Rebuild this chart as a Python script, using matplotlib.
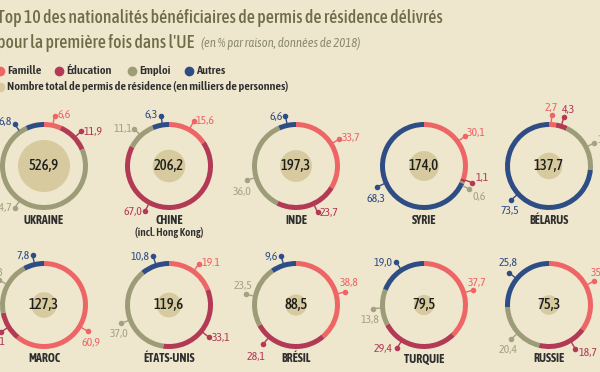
import matplotlib.pyplot as plt
import numpy as np

W, H = 600, 372

countries = ['UKRAINE', 'CHINE', 'INDE', 'SYRIE', 'BÉLARUS',
             'MAROC', 'ÉTATS-UNIS', 'BRÉSIL', 'TURQUIE', 'RUSSIE']
subnames = ['', '(incl. Hong Kong)', '', '', '', '', '', '', '', '']
totals = [526.9, 206.2, 197.3, 174.0, 137.7, 127.3, 119.6, 88.5, 79.5, 75.3]
famille = [6.6, 15.6, 33.7, 30.1, 2.7, 60.9, 19.1, 38.8, 37.7, 35.1]
education = [11.9, 67.0, 23.7, 1.1, 4.3, 11.1, 33.1, 28.1, 29.4, 18.7]
emploi = [74.7, 11.1, 36.0, 0.6, 19.5, 20.3, 37.0, 23.5, 13.8, 20.4]
autres = [6.8, 6.3, 6.6, 68.3, 73.5, 7.8, 10.8, 9.6, 19.0, 25.8]
reasons = ['Famille', 'Éducation', 'Emploi', 'Autres']
typo = {(6, 0): '19.1'}  # l'original écrit 19.1 avec un point

bg = '#efe7cd'
ring_col = ['#ee6566', '#b23a55', '#9d9c78', '#2e4d85']
lab_col = ['#ee6566', '#b23a55', '#a4a285', '#2e4d85']
inner_col = '#d6ca9e'
title_col = '#6f6d48'
dark = '#2f2f2f'

cond = ['Asap Condensed', 'Roboto Condensed', 'Liberation Sans Narrow', 'DejaVu Sans']

# mise en page (pixels, y vers le bas)
cols = [44, 169, 296, 424, 549]
rows = [166, 305]
R = 44
# (angle horaire, dx, dy, ha) pour famille, éducation, emploi, autres
lab_pos = [
    [(12, 3, -2, 'left'), (47, 2, 0, 'left'), (215, -3, 0, 'right'), (325, -3, -3, 'right')],
    [(29, 2, -1, 'left'), (208, -3, 0, 'right'), (317, -2, 0, 'right'), (351, -3, -1, 'right')],
    [(58, 3, -1, 'left'), (155, 2, 0, 'left'), (254, -5, 11, 'center'), (348, -3, 0, 'right')],
    [(54, 2, -4, 'left'), (109, 3, -5, 'left'), (117, 3, 7, 'left'), (246, -1, 12, 'center')],
    [(3, 0, -8, 'center'), (17, 5, -8, 'center'), (63, 3, -3, 'left'), (228, -1, 10, 'center')],
    [(121, 3, 11, 'center'), (238, 5, 9, 'right'), (299, 4, -8, 'right'), (347, -3, 0, 'right')],
    [(36, 3, -1, 'left'), (129, 3, 0, 'left'), (249, -2, 10, 'center'), (342, -4, 0, 'right')],
    [(75, 4, -9, 'center'), (220, -7, 12, 'center'), (282, -3, -9, 'center'), (343, -3, 0, 'right')],
    [(73, 4, -8, 'center'), (212, -4, 0, 'right'), (266, -3, 11, 'center'), (327, -4, 0, 'right')],
    [(62, -3, -9, 'left'), (149, 3, 4, 'left'), (228, -3, 10, 'center'), (309, -1, -10, 'center')],
]

fig = plt.figure(figsize=(6, 3.72), dpi=100, facecolor=bg)
ax = fig.add_axes([0, 0, 1, 1])
ax.set_facecolor(bg)

shares = np.array([famille, education, emploi, autres]).T
for i, name in enumerate(countries):
    cx = cols[i % 5]
    cy = H - rows[i // 5]
    ax.pie(shares[i], radius=R, center=(cx, cy), startangle=90, counterclock=False,
           colors=ring_col, wedgeprops=dict(width=5, linewidth=0), frame=True)
    r_in = 26 * np.sqrt(totals[i] / totals[0])
    ax.add_patch(plt.Circle((cx, cy), r_in, color=inner_col, lw=0))
    ax.text(cx, cy, f'{totals[i]:.1f}'.replace('.', ','), ha='center', va='center',
            fontsize=10.5, family=cond, weight='medium', color='#1e1e1e')
    ax.text(cx, cy - 54, name, ha='center', va='center', fontsize=8.6,
            family=cond, weight='bold', color=dark)
    if subnames[i]:
        ax.text(cx, cy - 66, subnames[i], ha='center', va='center', fontsize=8,
                family=cond, weight='semibold', color=dark)
    for k in range(4):
        ang, dx, dy, ha = lab_pos[i][k]
        t = np.radians(ang)
        ux, uy = np.sin(t), np.cos(t)
        px, py = cx + 51 * ux, cy + 51 * uy
        ax.plot([cx + R * ux, px], [cy + R * uy, py], color=lab_col[k], lw=1)
        ax.plot(px, py, 'o', ms=4, color=lab_col[k], mec='none')
        txt = typo.get((i, k), f'{shares[i][k]:.1f}'.replace('.', ','))
        ax.text(px + dx, py - dy, txt, ha=ha, va='center', fontsize=8.5,
                family=cond, color=lab_col[k])

# titre
ax.text(-3, H - 18, 'Top 10 des nationalités bénéficiaires de permis de résidence délivrés',
        fontsize=12.8, family=cond, weight='medium', color=title_col, va='center')
ax.text(-3, H - 43, "pour la première fois dans l'UE", fontsize=12.8, family=cond,
        weight='medium', color=title_col, va='center')
ax.text(201, H - 43, '(en % par raison, données de 2018)', fontsize=9.2, family=cond,
        style='italic', color='#8d8b6d', va='center')

# légende
leg_x = [0, 59, 132, 189]
for k, lab in enumerate(reasons):
    ax.plot(leg_x[k], H - 71, 'o', ms=7, color=ring_col[k], mec='none')
    ax.text(leg_x[k] + 7, H - 71, lab, fontsize=8.8, family=cond, weight='semibold',
            color=dark, va='center')
ax.plot(0, H - 87, 'o', ms=7, color=inner_col, mec='none')
ax.text(7, H - 87, 'Nombre total de permis de résidence (en milliers de personnes)',
        fontsize=8.8, family=cond, weight='semibold', color=dark, va='center')

ax.set_xlim(0, W)
ax.set_ylim(0, H)
ax.axis('off')
fig.savefig('out.png', dpi=100, facecolor=bg)
